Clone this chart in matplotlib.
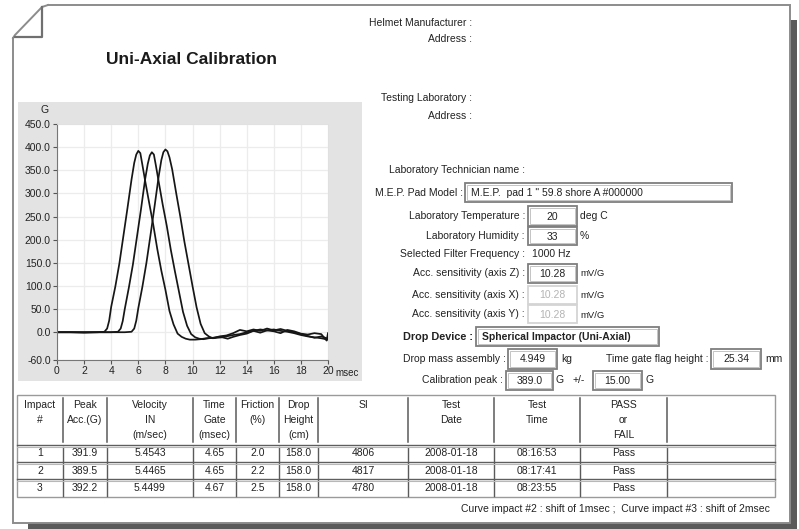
import matplotlib
matplotlib.use("Agg")
import matplotlib.pyplot as plt
from matplotlib.patches import Rectangle

plt.rcParams['font.family'] = ['Liberation Sans', 'DejaVu Sans']

# ---------------- data ----------------
t1 = [0, 1, 2, 3, 3.5, 3.7, 3.85, 4.0, 4.3, 4.6, 4.9, 5.2, 5.5, 5.7, 5.85, 6.0, 6.15, 6.3,
      6.5, 6.8, 7.1, 7.4, 7.7, 8.0, 8.3, 8.6, 8.9, 9.2, 9.5, 9.8, 10.2, 10.6, 11.0, 11.5,
      12.0, 12.5, 13.0, 13.5, 14.0, 14.5, 15.0, 15.5, 16.0, 16.5, 17.0, 17.5, 18.0, 18.5,
      19.0, 19.5, 20.0]
g1 = [0, 0, -1, 0, 1, 8, 25, 55, 98, 148, 208, 268, 330, 366, 384, 392, 387, 362,
      328, 280, 233, 180, 133, 92, 46, 17, -3, -10, -14, -16, -16, -15, -13, -12,
      -10, -9, -6, -4, 0, 3, 6, 4, 6, 3, 1, -2, -6, -9,
      -11, -13, -16]

t2 = [0, 1, 2, 3, 4, 4.5, 4.7, 4.85, 5.0, 5.3, 5.6, 5.9, 6.2, 6.5, 6.7, 6.85, 7.0, 7.15,
      7.3, 7.5, 7.8, 8.1, 8.4, 8.7, 9.0, 9.3, 9.6, 9.9, 10.2, 10.5, 10.8, 11.2, 11.6, 12.0,
      12.5, 13.0, 13.5, 14.0, 14.5, 15.0, 15.5, 16.0, 16.5, 17.0, 17.5, 18.0, 18.5, 19.0,
      19.5, 20.0]
g2 = [0, 0, 0, 0, 0, 1, 8, 24, 50, 96, 146, 206, 266, 330, 364, 382, 389, 384,
      360, 326, 276, 230, 178, 132, 88, 44, 14, -4, -11, -14, -15, -13, -12, -9,
      -7, -2, 5, 2, 6, 3, 8, 4, 7, 3, 0, -4, -8, -12,
      -9, -14]

t3 = [0, 1, 2, 3, 4, 5, 5.5, 5.7, 5.85, 6.0, 6.3, 6.6, 6.9, 7.2, 7.5, 7.7, 7.85, 8.0,
      8.15, 8.3, 8.5, 8.8, 9.1, 9.4, 9.7, 10.0, 10.3, 10.6, 10.9, 11.2, 11.5, 11.8, 12.2,
      12.6, 13.0, 13.5, 14.0, 14.5, 15.0, 15.5, 16.0, 16.5, 17.0, 17.5, 18.0, 18.5, 19.0,
      19.5, 19.9, 20.0]
g3 = [0, 0, 0, 0, 0, 0, 1, 8, 25, 52, 98, 150, 210, 272, 336, 372, 389, 395,
      391, 378, 352, 300, 250, 196, 148, 100, 54, 18, -2, -9, -13, -12, -11,
      -14, -10, -6, -3, 3, -1, 4, 2, -2, 5, 2, -3, -5, -2,
      -4, -18, -2]

y_ticks = [-60, 0, 50, 100, 150, 200, 250, 300, 350, 400, 450]
x_ticks = [0, 2, 4, 6, 8, 10, 12, 14, 16, 18, 20]

header = [["Impact", "#"], ["Peak", "Acc.(G)"], ["Velocity", "IN", "(m/sec)"],
          ["Time", "Gate", "(msec)"], ["Friction", "(%)"], ["Drop", "Height", "(cm)"],
          ["SI"], ["Test", "Date"], ["Test", "Time"], ["PASS", "or", "FAIL"], [""]]
impact = ["1", "2", "3"]
peak = ["391.9", "389.5", "392.2"]
velocity = ["5.4543", "5.4465", "5.4499"]
time_gate = ["4.65", "4.65", "4.67"]
friction = ["2.0", "2.2", "2.5"]
drop_height = ["158.0", "158.0", "158.0"]
si = ["4806", "4817", "4780"]
test_date = ["2008-01-18", "2008-01-18", "2008-01-18"]
test_time = ["08:16:53", "08:17:41", "08:23:55"]
result = ["Pass", "Pass", "Pass"]

# ---------------- figure ----------------
W, H = 799, 529
fig = plt.figure(figsize=(W / 100, H / 100), dpi=100)
bg = fig.add_axes([0, 0, 1, 1], zorder=0)
bg.set_xlim(0, W)
bg.set_ylim(H, 0)
bg.axis('off')

TXT = '#222222'
FS = 7.5

# page shadow
bg.add_patch(Rectangle((790, 20), 7, 509, color='#5a5a5a', lw=0))
bg.add_patch(Rectangle((28, 523), 769, 6, color='#5a5a5a', lw=0))
# page outline
bg.plot([48, 790, 790, 13, 13], [5, 5, 523, 523, 38], color='#8c8c8c', lw=1.4,
        solid_joinstyle='miter')
bg.plot([13, 15, 42, 48], [38, 35, 7, 5], color='#8c8c8c', lw=1.4)
bg.plot([42, 42, 15], [7, 37, 37], color='#707070', lw=1.6)

# title
bg.text(192, 60, "Uni-Axial Calibration", ha='center', va='center', fontsize=12.5,
        fontweight='bold', color='#1a1a1a')

# chart panel
bg.add_patch(Rectangle((18, 102), 344, 279, color='#e3e3e3', lw=0))
bg.text(45, 110, "G", ha='center', va='center', fontsize=7.5, color=TXT)
bg.text(335, 373, "msec", ha='left', va='center', fontsize=7, color=TXT)

# chart axes
ax = fig.add_axes([57 / W, 1 - 360 / H, 271 / W, 236 / H], zorder=1)
ax.set_facecolor('white')
for tt, gg in ((t1, g1), (t2, g2), (t3, g3)):
    ax.plot(tt, gg, color='#161616', lw=1.25, solid_joinstyle='round')
ax.set_xlim(0, 20)
ax.set_ylim(-60, 450)
ax.set_yticks(y_ticks)
ax.set_yticklabels([f"{v:.1f}" for v in y_ticks])
ax.set_xticks(x_ticks)
ax.set_xticklabels([str(v) for v in x_ticks])
ax.grid(True, color='#ececec', lw=0.9)
ax.set_axisbelow(True)
ax.tick_params(axis='both', direction='out', length=3, width=0.8, color='#555555',
               labelsize=7.5, labelcolor=TXT, pad=1.5)
for s in ('top', 'right'):
    ax.spines[s].set_color('#e0e0e0')
    ax.spines[s].set_linewidth(0.6)
for s in ('left', 'bottom'):
    ax.spines[s].set_color('#777777')
    ax.spines[s].set_linewidth(0.8)


def label(x, y, s, ha='right', bold=False, color=TXT, fs=FS):
    bg.text(x, y, s, ha=ha, va='center', fontsize=fs, color=color,
            fontweight='bold' if bold else 'normal')


def box(x0, y0, x1, y1, s, ha='center', disabled=False, bold=False):
    ec = '#d4d4d4' if disabled else '#7e7e7e'
    bg.add_patch(Rectangle((x0, y0), x1 - x0, y1 - y0, facecolor='white', edgecolor=ec,
                           lw=1.3))
    if not disabled:
        bg.add_patch(Rectangle((x0 + 1.8, y0 + 1.8), x1 - x0 - 3.6, y1 - y0 - 3.6,
                               facecolor='none', edgecolor='#c4c4c4', lw=0.7))
    col = '#b4b4b4' if disabled else TXT
    xx = (x0 + x1) / 2 if ha == 'center' else x0 + 6
    bg.text(xx, (y0 + y1) / 2 + 0.5, s, ha=ha, va='center', fontsize=FS, color=col,
            fontweight='bold' if bold else 'normal')


# right-hand info
label(472, 23, "Helmet Manufacturer :")
label(472, 39, "Address :")
label(472, 98, "Testing Laboratory :")
label(472, 116, "Address :")
label(525, 170, "Laboratory Technician name :")
label(463, 193, "M.E.P. Pad Model :")
box(465, 183, 732, 202, 'M.E.P.  pad 1 " 59.8 shore A #000000', ha='left')
label(525, 216, "Laboratory Temperature :")
box(528, 206, 577, 226, "20")
label(580, 216, "deg C", ha='left')
label(525, 236, "Laboratory Humidity :")
box(528, 227, 577, 245, "33")
label(580, 236, "%", ha='left')
label(525, 254, "Selected Filter Frequency :")
label(532, 254, "1000 Hz", ha='left')
label(525, 273, "Acc. sensitivity (axis Z) :")
box(528, 264, 577, 283, "10.28")
label(580, 273, "mV/G", ha='left', fs=6.8)
label(525, 295, "Acc. sensitivity (axis X) :")
box(528, 286, 577, 304, "10.28", disabled=True)
label(580, 296, "mV/G", ha='left', fs=6.8)
label(525, 314, "Acc. sensitivity (axis Y) :")
box(528, 305, 577, 323, "10.28", disabled=True)
label(580, 315, "mV/G", ha='left', fs=6.8)
label(473, 337, "Drop Device :", bold=True, fs=7.8)
box(476, 327, 659, 346, "Spherical Impactor (Uni-Axial)", ha='left', bold=True)
label(506, 359, "Drop mass assembly :")
box(508, 349, 557, 369, "4.949")
label(561, 359, "kg", ha='left')
label(708, 359, "Time gate flag height :")
box(711, 349, 761, 369, "25.34")
label(765, 359, "mm", ha='left')
label(503, 380, "Calibration peak :")
box(506, 371, 553, 390, "389.0")
label(556, 380, "G", ha='left')
label(573, 380, "+/-", ha='left')
box(593, 371, 642, 390, "15.00")
label(645, 380, "G", ha='left')

# table
edges = [17, 63, 107, 193, 236, 279, 318, 408, 494, 580, 667, 775]
t_top, h_bot, t_bot = 395, 445, 497
row_lines = [462, 479]
row_y = [453.5, 470.5, 488]
bg.add_patch(Rectangle((edges[0], t_top), edges[-1] - edges[0], t_bot - t_top,
                       facecolor='white', edgecolor='#9a9a9a', lw=1.0))
for x in edges[1:-1]:
    bg.plot([x, x], [t_top + 3, h_bot - 3], color='#5a5a5a', lw=1.1)
    bg.plot([x, x], [h_bot + 2, t_bot - 1], color='#5a5a5a', lw=1.0)
for y in [h_bot] + row_lines:
    bg.plot([edges[0], edges[-1]], [y, y], color='#5e5e5e', lw=1.0)
    bg.plot([edges[0], edges[-1]], [y + 1.5, y + 1.5], color='#b8b8b8', lw=0.8)
head_y = [405, 420, 435]
for i, lines in enumerate(header):
    cx = (edges[i] + edges[i + 1]) / 2
    for j, s in enumerate(lines):
        bg.text(cx, head_y[j], s, ha='center', va='center', fontsize=FS, color=TXT)
cols = [impact, peak, velocity, time_gate, friction, drop_height, si, test_date,
        test_time, result]
for i, col in enumerate(cols):
    cx = (edges[i] + edges[i + 1]) / 2
    for r, s in enumerate(col):
        bg.text(cx, row_y[r], s, ha='center', va='center', fontsize=FS, color=TXT)

bg.text(770, 509, "Curve impact #2 : shift of 1msec ;  Curve impact #3 : shift of 2msec",
        ha='right', va='center', fontsize=FS, color=TXT)

fig.savefig("out.png", dpi=100)
